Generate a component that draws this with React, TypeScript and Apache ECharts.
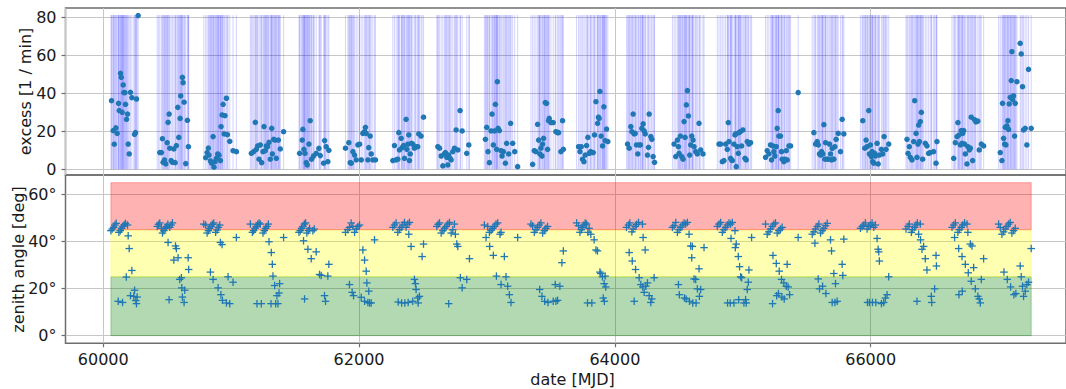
import React, { useEffect, useRef } from "react";
import * as echarts from "echarts";

// ---------- data ----------
const xTicks = [60000, 62000, 64000, 66000];
const excessTicks = [0, 20, 40, 60, 80];
const zenithTicks = [0, 20, 40, 60];
const zenithBandEdges = [0, 25, 45, 65];
const zenithBandColors = ["rgba(0,128,0,0.3)", "rgba(255,255,0,0.3)", "rgba(255,0,0,0.3)"];
const excessLineTop = 81.2;

// [MJD, excess (1/min)]
const excessPoints: [number, number][] = [
  [60065,36.1],[60078,20.4],[60086,13.2],[60099,21.8],[60109,18.9],[60120,34.7],[60125,30.9],[60135,50.5],[60141,48.4],[60148,30.0],[60156,44.4],[60161,40.4],[60169,40.4],[60174,34.2],[60182,26.3],[60190,29.1],[60195,13.3],[60203,8.1],[60213,40.5],[60224,37.7],[60245,18.4],[60252,19.3],[60260,37.0],[60273,80.9],
  [60442,8.8],[60455,8.8],[60463,16.1],[60468,3.7],[60479,4.9],[60489,2.8],[60500,14.0],[60507,24.7],[60515,29.1],[60520,11.1],[60531,4.6],[60541,3.7],[60552,10.7],[60562,3.5],[60572,12.5],[60583,32.6],[60591,16.8],[60601,26.8],[60606,38.6],[60619,48.4],[60624,45.6],[60632,35.3],[60645,3.0],[60658,25.8],[60666,11.9],
  [60801,6.1],[60812,8.8],[60822,11.2],[60827,7.5],[60838,4.4],[60848,3.2],[60859,17.2],[60866,1.1],[60874,4.0],[60885,5.8],[60895,8.1],[60905,7.4],[60916,4.6],[60921,22.5],[60929,28.6],[60937,34.2],[60945,18.6],[60952,28.2],[60963,37.4],[60971,18.2],[60989,14.7],[61015,9.8],[61041,9.3],
  [61158,8.4],[61176,9.3],[61189,24.7],[61197,10.5],[61207,12.3],[61218,5.3],[61228,12.8],[61239,3.5],[61249,9.3],[61257,22.5],[61267,9.8],[61275,12.3],[61285,11.9],[61296,14.2],[61306,5.3],[61317,21.6],[61322,8.1],[61332,15.8],[61343,15.4],[61353,5.8],[61369,15.4],[61384,10.7],[61410,19.8],
  [61535,8.4],[61556,15.4],[61561,21.0],[61569,10.5],[61577,8.4],[61587,3.5],[61595,2.3],[61608,13.3],[61618,25.6],[61629,5.3],[61644,7.0],[61665,8.4],[61686,11.0],[61697,7.2],[61723,3.2],[61731,15.1],[61743,11.9],[61756,4.0],[61764,10.0],
  [61894,11.1],[61920,14.0],[61931,3.5],[61939,3.2],[61952,9.3],[61965,7.5],[61978,4.9],[61991,12.8],[62004,13.2],[62017,4.9],[62030,18.9],[62043,19.8],[62050,22.1],[62056,18.9],[62069,4.9],[62076,11.4],[62087,17.5],[62095,8.1],[62108,4.9],[62128,4.9],
  [62264,4.6],[62277,12.5],[62290,4.9],[62303,5.3],[62311,19.3],[62316,10.2],[62329,16.3],[62337,11.4],[62348,12.5],[62355,5.8],[62368,26.3],[62374,10.5],[62381,13.2],[62389,18.1],[62394,4.6],[62400,8.1],[62410,13.7],[62420,13.3],[62433,11.1],[62446,11.9],[62459,11.9],[62467,18.6],[62485,17.5],[62504,27.4],
  [62616,11.9],[62629,11.1],[62642,7.0],[62655,1.8],[62668,8.1],[62675,8.8],[62686,6.3],[62694,2.3],[62701,7.5],[62712,5.8],[62720,4.9],[62733,9.3],[62746,11.1],[62759,20.7],[62772,10.2],[62790,30.9],[62806,20.2],[62842,8.4],[62858,12.8],
  [62988,15.8],[62998,22.1],[63008,9.3],[63019,3.5],[63032,20.2],[63040,29.1],[63050,12.8],[63060,20.2],[63066,34.2],[63076,10.5],[63081,46.1],[63087,21.6],[63097,20.4],[63110,9.8],[63118,7.0],[63128,9.3],[63144,3.2],[63154,13.7],[63170,8.1],[63185,24.2],[63201,13.7],[63217,9.3],[63240,1.4],
  [63357,2.6],[63370,9.8],[63383,9.3],[63396,23.7],[63404,15.4],[63414,8.1],[63422,11.1],[63430,7.0],[63435,13.3],[63443,16.3],[63456,35.1],[63466,34.7],[63474,10.5],[63482,25.6],[63487,26.8],[63500,24.6],[63518,24.6],[63539,19.8],[63552,19.3],[63560,19.3],[63578,9.3],[63591,25.6],[63597,10.5],
  [63716,11.9],[63727,9.3],[63737,11.9],[63747,5.3],[63758,4.0],[63768,7.5],[63779,12.5],[63789,16.8],[63799,8.4],[63810,9.3],[63820,8.8],[63831,8.8],[63841,18.1],[63852,35.6],[63865,24.2],[63872,27.4],[63877,26.8],[63883,41.0],[63893,17.5],[63904,12.3],[63914,32.9],[63924,15.1],[63935,21.2],[63945,14.6],
  [64099,13.3],[64112,11.1],[64125,22.5],[64133,19.8],[64143,29.1],[64151,18.6],[64159,18.9],[64169,12.8],[64179,8.1],[64190,12.8],[64200,12.8],[64211,21.6],[64221,23.9],[64229,20.2],[64237,18.6],[64255,7.5],[64263,11.6],[64268,29.1],[64281,17.2],[64289,15.8],[64299,6.7],[64310,3.7],
  [64463,13.3],[64476,6.7],[64489,15.4],[64497,11.9],[64502,8.4],[64512,17.5],[64523,6.7],[64533,5.3],[64541,25.1],[64549,16.8],[64559,33.9],[64567,41.4],[64575,28.1],[64585,7.5],[64593,12.8],[64601,17.5],[64611,15.4],[64619,11.9],[64632,9.3],[64645,8.1],[64658,24.2],[64671,10.2],[64689,8.1],
  [64814,13.3],[64827,13.3],[64840,4.0],[64853,4.6],[64866,13.3],[64879,10.5],[64887,24.6],[64892,14.6],[64905,5.8],[64913,4.9],[64918,4.6],[64931,13.2],[64939,18.1],[64944,18.6],[64949,1.4],[64957,11.9],[64965,8.4],[64970,19.3],[64981,19.8],[64991,12.3],[65001,20.7],[65017,5.8],[65027,4.9],[65035,14.6],[65048,13.3],[65061,14.0],
  [65178,6.3],[65191,9.8],[65204,8.1],[65217,12.8],[65225,4.9],[65236,12.3],[65243,9.3],[65251,7.0],[65262,11.9],[65269,21.6],[65277,30.9],[65282,17.5],[65295,17.5],[65303,9.3],[65308,5.3],[65321,4.0],[65329,5.3],[65340,9.8],[65347,4.9],[65361,12.3],[65374,12.3],[65433,40.4],
  [65556,19.3],[65569,13.3],[65582,14.6],[65590,12.8],[65600,8.1],[65608,7.5],[65616,9.3],[65626,8.1],[65634,23.5],[65642,5.3],[65647,14.0],[65660,5.3],[65668,5.3],[65678,13.3],[65686,8.1],[65694,4.9],[65699,11.0],[65704,5.3],[65712,5.3],[65720,11.9],[65730,15.8],[65746,18.9],[65764,9.3],[65777,26.3],[65790,18.6],
  [65938,25.6],[65954,11.1],[65964,15.4],[65972,11.9],[65985,30.9],[65990,8.1],[65998,12.8],[66006,6.7],[66011,9.3],[66016,4.0],[66024,3.2],[66032,8.4],[66037,7.0],[66050,13.7],[66058,2.8],[66068,7.5],[66084,10.5],[66094,8.1],[66105,17.2],[66120,10.5],[66141,13.3],
  [66284,15.8],[66292,8.4],[66302,11.9],[66310,6.3],[66323,4.9],[66336,14.6],[66344,36.1],[66355,18.9],[66362,6.3],[66370,13.3],[66375,23.3],[66381,14.6],[66388,25.1],[66396,30.0],[66406,5.3],[66427,13.7],[66440,12.3],[66453,8.4],[66466,8.8],[66492,9.3],[66511,3.2],[66518,14.6],
  [66649,5.8],[66662,14.0],[66675,17.2],[66682,24.6],[66688,17.9],[66701,12.8],[66708,20.4],[66714,13.7],[66719,18.9],[66727,20.4],[66734,13.3],[66740,8.1],[66753,2.8],[66760,11.9],[66771,10.2],[66779,11.1],[66786,27.4],[66797,4.6],[66812,26.1],[66823,24.9],[66838,25.4],[66849,10.2],[66865,13.3],[66883,12.3],
  [67013,8.8],[67026,4.6],[67031,34.7],[67039,16.3],[67047,13.3],[67052,22.1],[67057,12.8],[67065,22.8],[67073,25.6],[67078,21.0],[67083,34.4],[67091,37.9],[67099,46.7],[67104,61.9],[67109,36.8],[67117,38.6],[67125,17.5],[67130,34.7],[67143,46.1],[67169,66.3],[67177,60.7],[67187,43.5],[67195,20.7],[67208,21.6],[67221,12.8],[67234,52.6],[67255,21.6],
];

// [MJD, zenith angle (deg)]
const zenithPoints: [number, number][] = [
  [60060,44.6],[60070,45.3],[60081,46.0],[60091,47.0],[60101,47.7],[60122,43.9],[60133,44.6],[60143,45.6],[60154,46.4],[60164,47.1],[60174,47.7],[60190,47.0],[60195,42.4],[60203,37.0],[60180,24.9],[60224,27.7],[60245,19.3],[60213,17.0],[60239,16.7],[60265,16.4],[60255,14.9],[60260,13.6],[60117,14.6],[60151,14.1],
  [60422,46.4],[60432,47.3],[60442,47.9],[60455,45.6],[60463,43.6],[60474,44.6],[60484,45.6],[60494,46.4],[60505,47.3],[60520,46.0],[60531,47.0],[60541,47.9],[60507,39.6],[60565,38.1],[60572,37.0],[60552,32.1],[60585,33.1],[60598,23.9],[60611,24.6],[60664,33.1],[60668,28.1],[60614,20.3],[60637,19.3],[60619,16.4],[60632,14.1],[60515,15.3],
  [60786,47.4],[60801,47.0],[60812,43.6],[60822,44.6],[60833,45.6],[60843,46.4],[60853,47.3],[60864,47.9],[60879,43.9],[60890,44.9],[60900,46.0],[60911,47.0],[60916,39.6],[60929,38.7],[61041,41.7],[60838,27.0],[60859,23.9],[60898,20.3],[60920,17.4],[60932,15.0],[60963,13.9],[60989,13.6],[60976,25.0],[61015,22.7],
  [61150,47.4],[61166,43.9],[61176,44.6],[61187,45.6],[61197,46.4],[61207,47.3],[61218,47.9],[61228,47.4],[61249,43.6],[61259,44.6],[61270,45.6],[61280,46.4],[61291,47.4],[61296,39.9],[61314,35.3],[61322,30.3],[61327,25.3],[61340,21.3],[61379,22.1],[61358,17.0],[61374,18.1],[61202,13.6],[61236,13.6],[61312,13.6],[61348,13.6],[61366,13.6],[61410,41.7],
  [61530,43.9],[61540,44.6],[61551,45.6],[61561,46.4],[61572,47.4],[61582,47.9],[61592,43.6],[61603,44.6],[61613,45.6],[61639,44.6],[61650,45.3],[61566,40.3],[61600,36.7],[61626,32.7],[61665,35.6],[61691,26.0],[61704,25.6],[61756,25.3],[61764,30.3],[61574,15.6],[61730,17.0],[61738,14.6],
  [61894,43.9],[61912,45.0],[61925,46.0],[61938,47.9],[61952,46.4],[61965,43.9],[61978,45.3],[61991,46.4],[62004,47.0],[61925,21.7],[61946,18.4],[61957,17.0],[62030,36.4],[62043,32.1],[62056,27.4],[62061,22.4],[62017,16.3],[62043,14.6],[62069,14.1],[62082,13.9],[62095,13.9],[62076,18.9],[62121,40.7],
  [62264,46.0],[62277,47.0],[62290,47.9],[62303,43.9],[62316,45.0],[62329,46.0],[62342,47.0],[62355,48.1],[62368,46.0],[62381,47.4],[62394,48.1],[62389,43.1],[62407,37.9],[62504,38.9],[62493,33.6],[62433,23.9],[62446,19.6],[62441,22.1],[62459,16.0],[62472,16.7],[62306,14.3],[62333,13.9],[62358,13.9],[62384,14.1],[62420,14.6],[62462,13.9],
  [62608,46.4],[62618,47.3],[62629,47.9],[62642,43.6],[62655,44.6],[62668,45.6],[62681,46.4],[62694,47.4],[62707,48.1],[62720,43.6],[62733,45.0],[62746,47.4],[62753,43.1],[62764,38.9],[62772,37.9],[62792,24.6],[62842,23.9],[62806,20.3],[62863,32.7],[62701,13.6],
  [62980,47.0],[63006,46.4],[63019,43.9],[63032,44.7],[63045,45.6],[63058,46.4],[63071,47.4],[63084,47.9],[62993,41.7],[63102,43.1],[63110,43.9],[63021,37.9],[63050,34.1],[63136,33.6],[63074,25.3],[63110,21.7],[63149,25.0],[63162,21.0],[63175,17.4],[63188,14.1],[63240,41.7],
  [63344,47.4],[63357,46.7],[63370,43.9],[63383,45.0],[63396,46.0],[63409,47.0],[63422,47.9],[63435,43.6],[63448,44.6],[63461,45.6],[63474,46.4],[63412,19.6],[63430,16.7],[63451,14.6],[63477,14.1],[63518,14.6],[63539,14.6],[63552,15.0],[63534,21.7],[63570,21.0],[63586,31.0],[63597,36.0],
  [63701,47.9],[63716,46.7],[63727,43.9],[63737,45.0],[63747,46.0],[63758,47.0],[63768,47.9],[63779,47.4],[63789,43.9],[63799,45.6],[63812,43.1],[63838,40.7],[63852,36.4],[63864,36.0],[63883,27.0],[63890,26.4],[63903,25.0],[63924,25.3],[63916,22.1],[63929,20.7],[63909,16.0],[63918,14.6],[63786,13.9],[63820,13.9],
  [64091,46.0],[64107,47.0],[64117,47.9],[64133,44.1],[64143,45.3],[64159,46.4],[64169,47.3],[64185,48.1],[64216,47.4],[64221,41.7],[64237,36.4],[64112,35.3],[64136,31.7],[64162,28.1],[64190,24.6],[64203,21.7],[64218,20.7],[64229,18.4],[64242,21.0],[64255,22.4],[64268,17.0],[64281,14.1],[64289,15.6],[64307,24.6],[64151,14.6],
  [64450,46.0],[64463,46.7],[64476,48.1],[64489,43.9],[64502,45.0],[64515,46.0],[64528,47.0],[64541,47.9],[64554,47.4],[64567,48.1],[64580,43.1],[64593,38.1],[64606,37.9],[64601,33.1],[64619,24.1],[64632,23.9],[64645,19.9],[64658,28.4],[64671,19.6],[64697,37.4],[64497,21.7],[64504,17.4],[64544,16.0],[64557,15.6],[64583,14.6],[64609,13.9],[64635,13.9],[64661,16.7],
  [64801,46.4],[64814,47.4],[64827,48.1],[64840,43.9],[64853,45.0],[64866,46.0],[64879,47.0],[64892,47.9],[64905,47.4],[64918,48.1],[64939,44.6],[64908,41.3],[64942,37.4],[64949,38.9],[64965,33.6],[64975,29.3],[64983,25.0],[64991,24.6],[65043,22.7],[65048,27.9],[65035,19.6],[65022,15.3],[64881,13.9],[64902,13.9],[64931,13.9],[64968,15.3],[65009,13.9],[65027,13.9],[65069,41.7],
  [65178,47.4],[65191,43.1],[65204,44.1],[65217,45.3],[65230,46.4],[65243,47.4],[65256,47.9],[65269,43.6],[65282,44.6],[65295,45.3],[65308,46.0],[65236,34.1],[65262,30.7],[65285,27.4],[65303,23.9],[65321,22.4],[65340,21.0],[65355,20.7],[65347,30.3],[65265,17.0],[65279,17.9],[65306,16.4],[65324,15.6],[65366,17.4],[65233,13.6],[65433,41.7],
  [65543,43.1],[65556,44.1],[65569,45.3],[65582,46.4],[65595,47.4],[65608,43.6],[65621,44.6],[65634,45.6],[65647,46.7],[65660,47.7],[65686,40.7],[65694,36.0],[65564,39.3],[65590,24.1],[65600,19.9],[65624,21.0],[65650,17.9],[65712,26.4],[65725,22.1],[65777,30.3],[65782,25.6],[65699,14.1],[65720,14.1],[65738,14.6],[65790,41.0],
  [65920,45.6],[65933,46.4],[65946,47.0],[65959,47.9],[65972,45.3],[65985,46.4],[65998,47.0],[66011,47.9],[66024,46.0],[66037,47.0],[66050,41.3],[66058,36.7],[66063,35.6],[66068,31.7],[66141,25.0],[66128,17.4],[66115,16.0],[66102,14.1],[66084,13.6],[65975,14.1],[65990,14.1],[66014,14.1],[66040,14.1],
  [66276,45.3],[66292,46.4],[66302,47.4],[66318,43.9],[66328,45.0],[66344,46.0],[66354,47.0],[66365,47.9],[66388,47.4],[66375,43.1],[66390,40.7],[66401,36.7],[66414,37.9],[66427,32.7],[66440,27.9],[66511,34.1],[66514,29.6],[66500,19.9],[66474,16.7],[66477,14.1],[66362,14.6],
  [66636,46.0],[66649,47.0],[66662,47.9],[66656,41.7],[66682,43.9],[66693,45.0],[66708,46.0],[66719,47.0],[66734,47.9],[66753,47.4],[66760,43.9],[66779,38.9],[66792,38.1],[66688,37.0],[66714,33.6],[66740,30.3],[66763,26.7],[66786,23.1],[66805,28.9],[66818,19.9],[66838,16.7],[66849,15.6],[66857,13.9],[66865,23.9],[66883,32.7],[66690,17.4],[66716,18.9],
  [67000,47.4],[67013,46.0],[67026,43.1],[67039,44.1],[67052,45.3],[67065,46.4],[67078,47.4],[67091,48.1],[67104,43.6],[67117,44.6],[67130,45.6],[67042,27.0],[67068,23.9],[67094,20.7],[67120,17.4],[67135,17.9],[67169,29.6],[67177,25.0],[67187,21.0],[67195,16.7],[67208,18.9],[67221,21.7],[67234,22.7],[67255,37.0],
];

const FONT = "DejaVu Sans";
const TEXT = "#1a1a1a";
const SPINE = "#6e6e6e";
const GRIDC = "#c6c6c6";
const MARK = "#1f77b4";

export default function App() {
  const ref = useRef<HTMLDivElement>(null);

  useEffect(() => {
    if (!ref.current) return;
    const chart = echarts.init(ref.current, null, { renderer: "svg" });

    const allDates = Array.from(
      new Set([...excessPoints.map((p) => p[0]), ...zenithPoints.map((p) => p[0])])
    ).sort((a, b) => a - b);
    const dMin = allDates[0];
    const dMax = allDates[allDates.length - 1];

    const bandAreas = zenithBandColors.map((c, i) => [
      { xAxis: dMin, yAxis: zenithBandEdges[i], itemStyle: { color: c, borderColor: c, borderWidth: 1 } },
      { xAxis: dMax, yAxis: zenithBandEdges[i + 1] },
    ]);

    const xMin = 59705;
    const xMax = 67527;

    const baseX = (gi: number, showLabels: boolean) => ({
      type: "value",
      gridIndex: gi,
      min: xMin,
      max: xMax,
      minInterval: 2000,
      maxInterval: 2000,
      axisLine: { show: false, onZero: false },
      axisTick: showLabels
        ? { show: true, length: 4, customValues: xTicks, lineStyle: { color: SPINE, width: 1.2 } }
        : { show: false },
      axisLabel: showLabels
        ? {
            show: true,
            customValues: xTicks,
            fontFamily: FONT,
            fontSize: 16,
            color: TEXT,
            margin: 8,
            formatter: (v: number) => String(v),
          }
        : { show: false },
      splitLine: { show: true, lineStyle: { color: GRIDC, width: 1 } },
    });

    const option: any = {
      animation: false,
      backgroundColor: "#ffffff",
      grid: [
        { left: 65.5, top: 8, width: 1002, height: 167, show: true, borderColor: SPINE, borderWidth: 1.5, backgroundColor: "transparent" },
        { left: 65.5, top: 175, width: 1002, height: 168.3, show: true, borderColor: SPINE, borderWidth: 1.5, backgroundColor: "transparent" },
      ],
      xAxis: [baseX(0, false), baseX(1, true)],
      yAxis: [
        {
          type: "value",
          gridIndex: 0,
          min: -3,
          max: 84.9,
          minInterval: 20,
          maxInterval: 20,
          axisLine: { show: false, onZero: false },
          axisTick: { show: true, length: 4, customValues: excessTicks, lineStyle: { color: SPINE, width: 1.2 } },
          axisLabel: {
            customValues: excessTicks,
            fontFamily: FONT,
            fontSize: 16,
            color: TEXT,
            margin: 9,
            formatter: (v: number) => String(v),
          },
          splitLine: { show: true, lineStyle: { color: GRIDC, width: 1 } },
        },
        {
          type: "value",
          gridIndex: 1,
          min: -3.25,
          max: 68.25,
          minInterval: 20,
          maxInterval: 20,
          axisLine: { show: false, onZero: false },
          axisTick: { show: true, length: 4, customValues: zenithTicks, lineStyle: { color: SPINE, width: 1.2 } },
          axisLabel: {
            customValues: zenithTicks,
            fontFamily: FONT,
            fontSize: 16,
            color: TEXT,
            margin: 9,
            formatter: (v: number) => `${v}°`,
          },
          splitLine: { show: true, lineStyle: { color: GRIDC, width: 1 } },
        },
      ],
      graphic: [
        {
          type: "text",
          x: 25.5,
          y: 91.5,
          rotation: Math.PI / 2,
          style: { text: "excess [1 / min]", fontFamily: FONT, fontSize: 16, fill: TEXT, align: "center", verticalAlign: "middle" },
        },
        {
          type: "text",
          x: 18.5,
          y: 259.5,
          rotation: Math.PI / 2,
          style: { text: "zenith angle [deg]", fontFamily: FONT, fontSize: 16, fill: TEXT, align: "center", verticalAlign: "middle" },
        },
        {
          type: "text",
          x: 572.5,
          y: 379,
          style: { text: "date [MJD]", fontFamily: FONT, fontSize: 16, fill: TEXT, align: "center", verticalAlign: "middle" },
        },
      ],
      series: [
        {
          type: "custom",
          xAxisIndex: 0,
          yAxisIndex: 0,
          silent: true,
          z: 1,
          data: allDates.map((d) => [d, excessLineTop]),
          encode: { x: 0, y: 1 },
          renderItem: (_params: any, api: any) => {
            const d = api.value(0);
            const p0 = api.coord([d, 0]);
            const p1 = api.coord([d, api.value(1)]);
            return {
              type: "line",
              shape: { x1: p0[0], y1: p0[1], x2: p1[0], y2: p1[1] },
              style: { stroke: "rgba(0,0,255,0.16)", lineWidth: 1.1 },
            };
          },
        },
        {
          type: "scatter",
          xAxisIndex: 0,
          yAxisIndex: 0,
          data: excessPoints,
          symbol: "circle",
          symbolSize: 5.5,
          itemStyle: { color: MARK, opacity: 1 },
          z: 3,
        },
        {
          type: "scatter",
          xAxisIndex: 1,
          yAxisIndex: 1,
          data: zenithPoints,
          symbol: "rect",
          symbolSize: [7.5, 1.3],
          itemStyle: { color: MARK, opacity: 1 },
          z: 3,
          markArea: { silent: true, label: { show: false }, data: bandAreas },
        },
        {
          type: "scatter",
          xAxisIndex: 1,
          yAxisIndex: 1,
          data: zenithPoints,
          symbol: "rect",
          symbolSize: [1.3, 7.5],
          itemStyle: { color: MARK, opacity: 1 },
          z: 3,
        },
      ],
    };

    chart.setOption(option);
    return () => chart.dispose();
  }, []);

  return (
    <div
      ref={ref}
      style={{ position: "absolute", left: 0, top: 0, width: 1066, height: 389, background: "#fff" }}
    />
  );
}
